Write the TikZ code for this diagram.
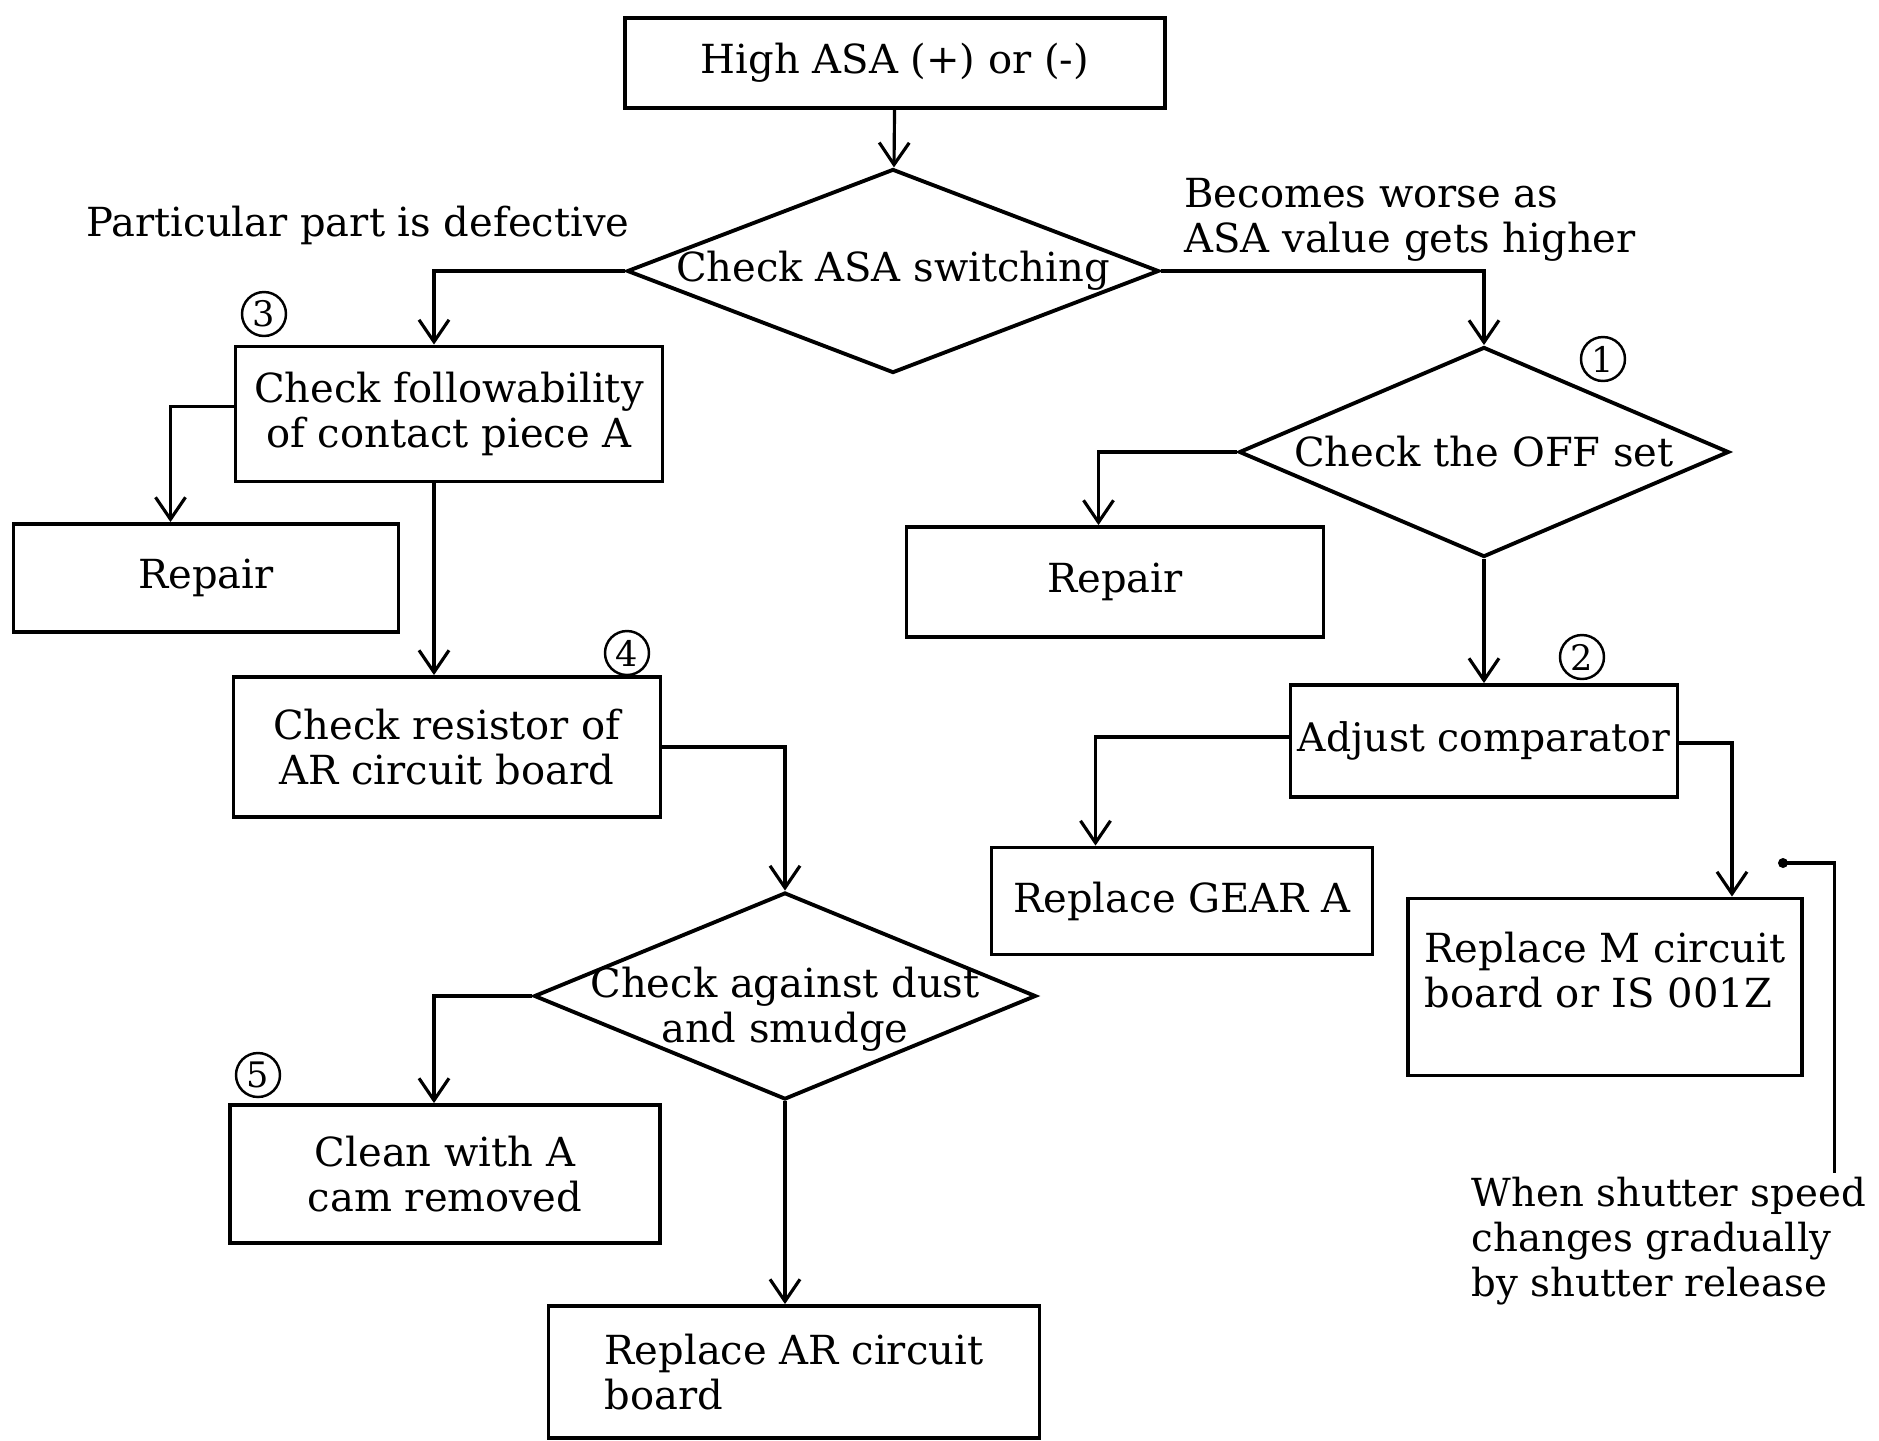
\documentclass[tikz,border=0pt]{standalone}
\usepackage{fontspec}
\setmainfont{DejaVu Serif}
\usetikzlibrary{shapes.geometric,arrows.meta}

\begin{document}
\begin{tikzpicture}[x=0.1mm,y=-0.1mm,
	font=\fontsize{11.4}{12.7}\selectfont,
	boite/.style={draw,line width=1.1pt,rectangle,inner sep=0pt},
	losange/.style={draw,line width=1.1pt,diamond,inner sep=0pt},
	fleche/.style={-{Straight Barb[length=2.2mm,width=3mm]},line width=0.9pt},
	numero/.style={draw,circle,line width=0.7pt,inner sep=0pt,minimum size=4.4mm,font=\fontsize{10}{10}\selectfont}]
	\useasboundingbox (0,0) rectangle (1879,1441);

	% Les boites
	\node[boite,minimum width=54mm,minimum height=9mm] (haut) at (895,63) {High ASA (+) or (-)};
	\node[boite,minimum width=42.7mm,minimum height=13.5mm,align=center] (suivi) at (449,414) {Check followability\\of contact piece A};
	\node[boite,minimum width=38.5mm,minimum height=10.8mm] (rep1) at (206,578) {Repair};
	\node[boite,minimum width=42.7mm,minimum height=14mm,align=center] (resist) at (447,747) {Check resistor of\\AR circuit board};
	\node[boite,minimum width=43mm,minimum height=13.8mm,align=center] (nettoyer) at (445,1174) {Clean with A\\cam removed};
	\node[boite,minimum width=49.1mm,minimum height=13.2mm,align=left] (remplAR) at (794,1372) {Replace AR circuit\\board};
	\node[boite,minimum width=41.7mm,minimum height=11mm] (rep2) at (1115,582) {Repair};
	\node[boite,minimum width=38.7mm,minimum height=11.2mm,font=\fontsize{11.2}{12.7}\selectfont] (ajust) at (1484,741) {Adjust comparator};
	\node[boite,minimum width=38.1mm,minimum height=10.7mm] (engr) at (1182,901) {Replace GEAR A};
	\node[boite,minimum width=39.4mm,minimum height=17.7mm,align=left,text depth=3.4mm] (remplM) at (1605,987) {Replace M circuit\\board or IS 001Z};

	% Les losanges
	\node[losange,minimum width=53.2mm,minimum height=20.4mm,label={center:Check ASA switching}] (asa) at (893,271) {};
	\node[losange,minimum width=49mm,minimum height=21mm,label={center:Check the OFF set}] (offset) at (1484,452) {};
	\node[losange,minimum width=50.2mm,minimum height=20.7mm,label={[yshift=-1.3mm,align=center]center:Check against dust\\and smudge}] (poussiere) at (785,996) {};

	% Les numeros
	\node[numero] (n1) at (1603,359) {1};
	\node[numero] (n2) at (1582,657) {2};
	\node[numero] (n3) at (264,314) {3};
	\node[numero] (n4) at (627,653) {4};
	\node[numero] (n5) at (258,1075) {5};

	% Les textes
	\node[anchor=west] (defaut) at (74,225) {Particular part is defective};
	\node[anchor=west,align=left] (pire) at (1172,220) {Becomes worse as\\ASA value gets higher};
	\node[anchor=west,align=left,inner sep=0pt,font=\fontsize{11}{12.7}\selectfont] (note) at (1471,1241) {When shutter speed\\changes gradually\\by shutter release};

	% Les fleches
	\draw[fleche] (haut) -- (asa);
	\draw[fleche] (asa.west) -| ([xshift=-1.5mm]suivi.north);
	\draw[fleche] ([yshift=0.75mm]suivi.west) -| ([xshift=-3.55mm]rep1.north);
	\draw[fleche] ([xshift=-1.5mm]suivi.south) -- ([xshift=-1.5mm]suivi.south |- resist.north);
	\draw[fleche] (resist.east) -| (poussiere.north);
	\draw[fleche] (poussiere.west) -| ([xshift=-1.1mm]nettoyer.north);
	\draw[fleche] (poussiere.south) -- (poussiere.south |- remplAR.north);
	\draw[fleche] (asa.east) -| (offset.north);
	\draw[fleche] (offset.west) -| ([xshift=-1.65mm]rep2.north);
	\draw[fleche] (offset.south) -- (offset.south |- ajust.north);
	\draw[fleche] ([yshift=0.4mm]ajust.west) -| ([xshift=-8.65mm]engr.north);
	\draw[fleche] ([yshift=-0.2mm]ajust.east) -| ([xshift=12.7mm]remplM.north);

	% La remarque
	\coordinate (pt) at (1783,863);
	\draw[line width=0.9pt] ([xshift=-3.2mm,yshift=0.4mm]note.north east) |- (pt);
	\fill (pt) circle (0.5mm);
\end{tikzpicture}
\end{document}
